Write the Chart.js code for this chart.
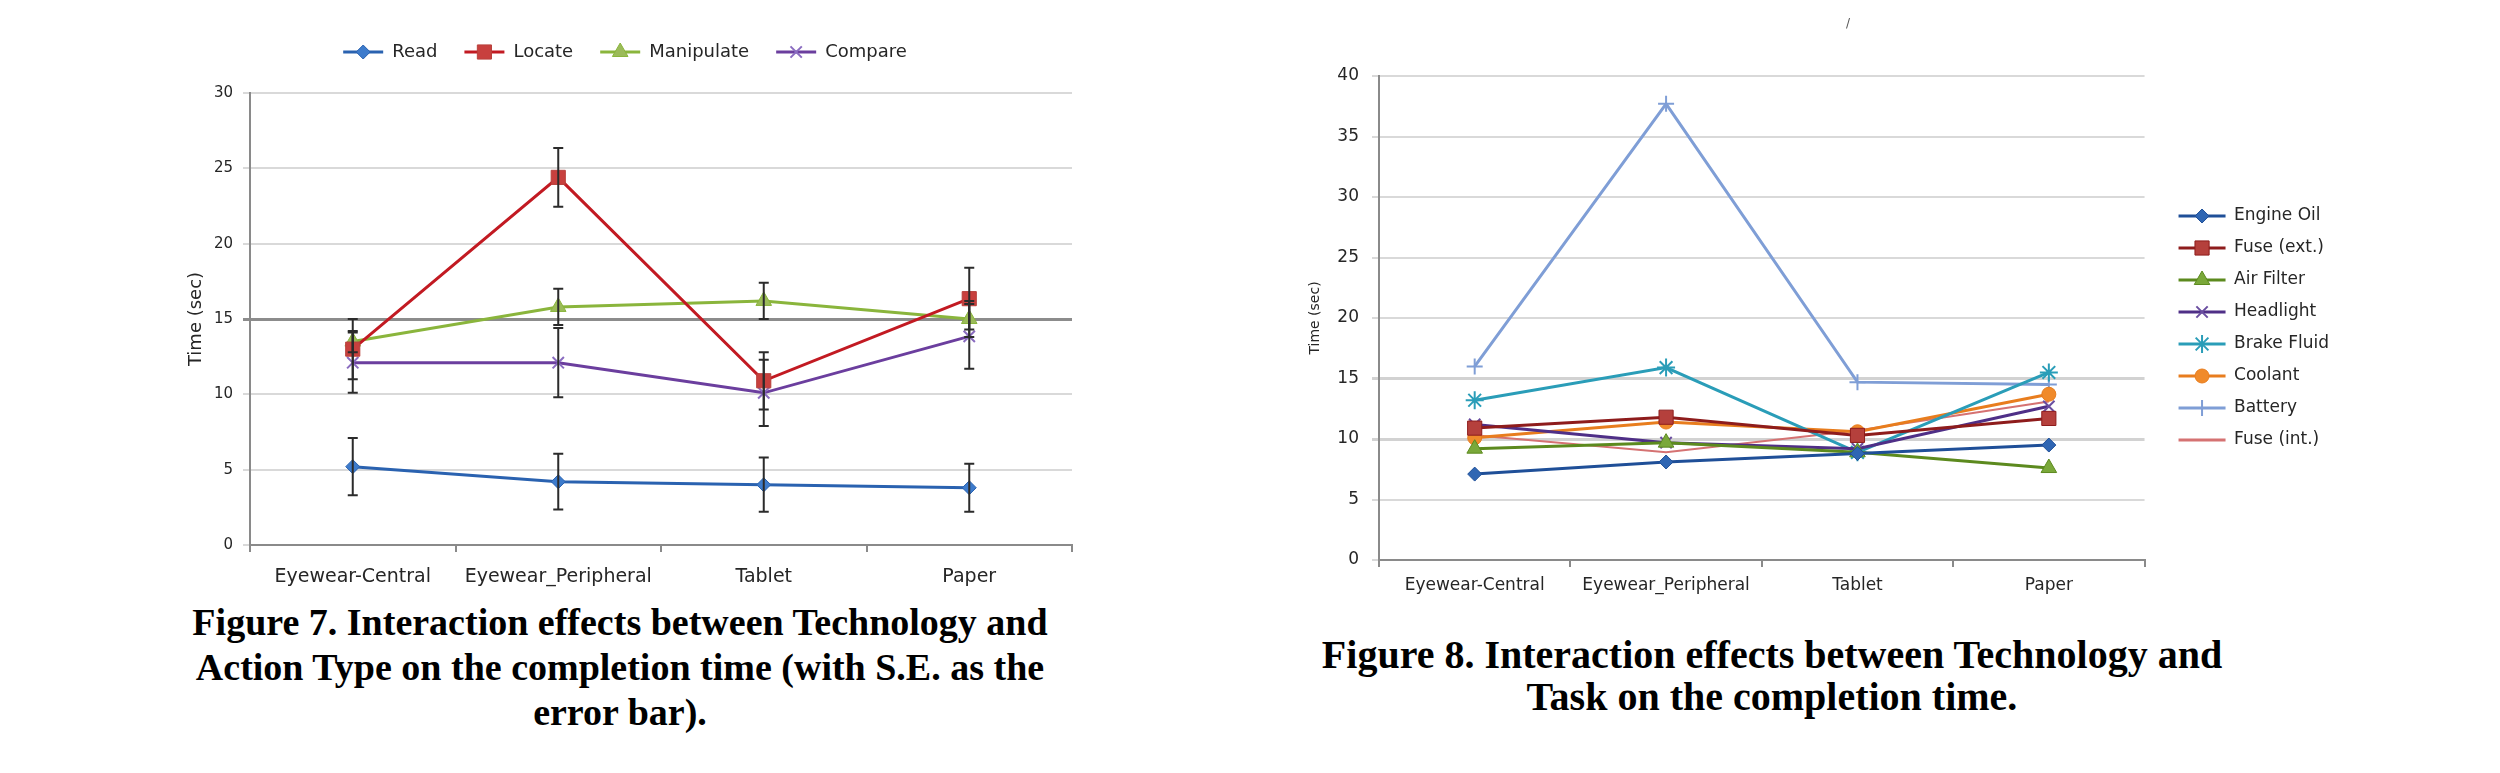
<!DOCTYPE html>
<html><head><meta charset="utf-8">
<script src="https://cdn.jsdelivr.net/npm/chart.js@4.4.1/dist/chart.umd.min.js"></script>
<style>
html,body{margin:0;padding:0;background:#fff;width:2500px;height:773px;overflow:hidden;position:relative}
canvas{position:absolute}
.cap{position:absolute;font-family:"Liberation Serif","Times New Roman",serif;font-weight:bold;color:#000;text-align:center;white-space:nowrap}
</style></head><body>
<canvas id="c1" width="1110" height="600" style="left:0;top:0;width:1110px;height:600px"></canvas>
<canvas id="c2" width="1250" height="620" style="left:1250px;top:0;width:1250px;height:620px"></canvas>
<div class="cap" style="left:120px;width:1000px;top:600px;font-size:38px;line-height:45px">Figure 7. Interaction effects between Technology and<br>Action Type on the completion time (with S.E. as the<br>error bar).</div>
<div class="cap" style="left:1222px;width:1100px;top:634px;font-size:40px;line-height:42px">Figure 8. Interaction effects between Technology and<br>Task on the completion time.</div>
<div style="position:absolute;left:1846px;top:16px;font:12px 'DejaVu Sans';color:#555">/</div>
<script>
// ---------- data ----------
const categories = ['Eyewear-Central', 'Eyewear_Peripheral', 'Tablet', 'Paper'];

// Figure 7 (means and standard errors, seconds)
const readTimes       = [5.2, 4.2, 4.0, 3.8];
const locateTimes     = [13.0, 24.4, 10.9, 16.35];
const manipulateTimes = [13.5, 15.8, 16.2, 15.0];
const compareTimes    = [12.1, 12.1, 10.1, 13.85];
const readSE       = [1.9, 1.85, 1.8, 1.6];
const locateSE     = [2.0, 1.95, 1.9, 2.05];
const manipulateSE = [0.7, 1.2, 1.2, 1.2];
const compareSE    = [2.0, 2.3, 2.2, 2.15];

// Figure 8 (mean times per task, seconds)
const engineOil  = [7.1, 8.1, 8.8, 9.5];
const fuseExt    = [10.9, 11.8, 10.3, 11.7];
const airFilter  = [9.2, 9.7, 8.9, 7.6];
const headlight  = [11.2, 9.7, 9.2, 12.7];
const brakeFluid = [13.2, 15.9, 8.9, 15.5];
const coolant    = [10.1, 11.4, 10.6, 13.7];
const battery    = [16.0, 37.7, 14.7, 14.5];
const fuseInt    = [10.3, 8.9, 10.7, 13.1];

const yTitle = 'Time (sec)';

// ---------- plugins ----------
const errorBars = {
  id: 'errorBars',
  afterDatasetsDraw(chart) {
    const y = chart.scales.y, ctx = chart.ctx;
    ctx.save();
    ctx.strokeStyle = '#2b2b2b';
    ctx.lineWidth = 2;
    chart.data.datasets.forEach((ds, i) => {
      if (!ds.errorBars) return;
      const meta = chart.getDatasetMeta(i);
      meta.data.forEach((pt, j) => {
        const v = ds.data[j], e = ds.errorBars[j];
        const hi = y.getPixelForValue(v + e), lo = y.getPixelForValue(v - e);
        const cap = 5;
        ctx.beginPath();
        ctx.moveTo(pt.x, hi); ctx.lineTo(pt.x, lo);
        ctx.moveTo(pt.x - cap, hi); ctx.lineTo(pt.x + cap, hi);
        ctx.moveTo(pt.x - cap, lo); ctx.lineTo(pt.x + cap, lo);
        ctx.stroke();
      });
    });
    ctx.restore();
  }
};

function drawMarker(ctx, style, x, y, r, fill, stroke, bw) {
  ctx.save();
  ctx.fillStyle = fill; ctx.strokeStyle = stroke; ctx.lineWidth = bw;
  if (Chart.helpers && Chart.helpers.drawPoint) {
    Chart.helpers.drawPoint(ctx, {pointStyle: style, radius: r, rotation: 0, borderWidth: bw}, x, y);
  }
  ctx.restore();
}

const legendTweak = {
  id: 'legendTweak',
  afterLayout(chart, args, opts) {
    const lg = chart.legend; if (!lg) return;
    const dx = opts.dx || 0, dy = opts.dy || 0;
    lg.left += dx; lg.right += dx; lg.top += dy; lg.bottom += dy;
  },
  afterDraw(chart) {
    const lg = chart.legend; if (!lg || !lg.legendHitBoxes) return;
    const ctx = chart.ctx;
    const bwid = lg.options.labels.boxWidth;
    lg.legendHitBoxes.forEach((hb, i) => {
      const ds = chart.data.datasets[i];
      if (!ds.pointRadius) return;
      drawMarker(ctx, ds.pointStyle, hb.left + bwid / 2, hb.top + hb.height / 2,
        ds.legendRadius || ds.pointRadius, ds.pointBackgroundColor, ds.pointBorderColor, ds.pointBorderWidth || 1);
    });
  }
};

function lineLabels(chart) {
  const items = Chart.defaults.plugins.legend.labels.generateLabels(chart);
  items.forEach((it) => {
    const ds = chart.data.datasets[it.datasetIndex];
    it.fillStyle = ds.borderColor; it.strokeStyle = ds.borderColor; it.lineWidth = 0;
  });
  return items;
}

function mk(label, data, line, fill, style, r, extra) {
  return Object.assign({
    label, data, borderColor: line, backgroundColor: fill,
    pointBackgroundColor: fill, pointBorderColor: line, pointBorderWidth: 1,
    pointStyle: style, pointRadius: r, pointHoverRadius: r,
    borderWidth: 3, tension: 0, fill: false
  }, extra || {});
}

const FONT = "'DejaVu Sans', Verdana, sans-serif";
const TXT = '#262626';
const AX = '#8a8a8a';

function xScale(fs, pad, h) {
  return {
    type: 'category', offset: true,
    grid: {display: true, offset: true, drawOnChartArea: false, drawTicks: true, tickLength: 7, color: AX, lineWidth: 2},
    border: {display: true, color: AX, width: 2},
    ticks: {font: {family: FONT, size: fs}, color: TXT, padding: pad, maxRotation: 0, autoSkip: false},
    afterFit(s) { s.height = h; }
  };
}

function yScale(max, fs, tfs, w, tick, pad, grid) {
  return {
    min: 0, max: max,
    ticks: {stepSize: 5, font: {family: FONT, size: fs}, color: TXT, padding: pad},
    grid: {drawTicks: true, tickLength: tick, color: c => grid(c).color, lineWidth: c => grid(c).w},
    border: {display: true, color: AX, width: 2},
    title: {display: true, text: yTitle, font: {family: FONT, size: tfs}, color: TXT, padding: 0},
    afterFit(s) { s.width = w; }
  };
}

Chart.defaults.animation = false;

// ---------- Figure 7 ----------
new Chart(document.getElementById('c1'), {
  type: 'line',
  data: {
    labels: categories,
    datasets: [
      mk('Read', readTimes, '#2a62b0', '#3d7bcc', 'rectRot', 7, {errorBars: readSE}),
      mk('Locate', locateTimes, '#c21a22', '#c8403e', 'rect', 10, {errorBars: locateSE, pointBorderColor: '#b8403c'}),
      mk('Manipulate', manipulateTimes, '#8ab53c', '#9bbb59', 'triangle', 9, {errorBars: manipulateSE}),
      mk('Compare', compareTimes, '#6b3e9e', '#8064a2', 'crossRot', 8, {errorBars: compareSE, pointBorderColor: '#8a6cc0', pointBorderWidth: 2})
    ]
  },
  options: {
    responsive: false, devicePixelRatio: 1,
    layout: {padding: {left: 186, right: 38, top: 38, bottom: 10}},
    scales: {
      x: xScale(19, 14, 45),
      y: yScale(30, 15, 18, 64, 7, 10, c => (c.tick && c.tick.value === 15) ? {color: '#8c8c8c', w: 3} : {color: '#d9d9d9', w: 2})
    },
    plugins: {
      legend: {position: 'top', labels: {font: {family: FONT, size: 18}, color: TXT, boxWidth: 40, boxHeight: 3, padding: 27, generateLabels: lineLabels}},
      tooltip: {enabled: false},
      legendTweak: {dx: -4, dy: -22}
    }
  },
  plugins: [errorBars, legendTweak]
});

// ---------- Figure 8 ----------
new Chart(document.getElementById('c2'), {
  type: 'line',
  data: {
    labels: categories,
    datasets: [
      mk('Engine Oil', engineOil, '#1f4f98', '#2f66b3', 'rectRot', 7),
      mk('Fuse (ext.)', fuseExt, '#8e1c1c', '#b5403c', 'rect', 10),
      mk('Air Filter', airFilter, '#5c8a1e', '#7aa83a', 'triangle', 9),
      mk('Headlight', headlight, '#4f2f87', '#6a4ea0', 'crossRot', 8, {pointBorderWidth: 2, pointBorderColor: '#6a4ea0'}),
      mk('Brake Fluid', brakeFluid, '#2a9db8', '#2a9db8', 'star', 9, {pointBorderWidth: 2}),
      mk('Coolant', coolant, '#e87d1e', '#f08a2a', 'circle', 7),
      mk('Battery', battery, '#7f9ed6', '#7f9ed6', 'cross', 8, {pointBorderWidth: 2}),
      mk('Fuse (int.)', fuseInt, '#d57272', '#d57272', 'circle', 0, {borderWidth: 2})
    ]
  },
  options: {
    responsive: false, devicePixelRatio: 1,
    layout: {padding: {left: 57, right: 180, top: 76, bottom: 10}},
    scales: {
      x: xScale(17, 8, 50),
      y: yScale(40, 17, 14, 72, 7, 13, c => (c.tick && (c.tick.value === 15 || c.tick.value === 10)) ? {color: '#d2d2d2', w: 3} : {color: '#d9d9d9', w: 2})
    },
    plugins: {
      legend: {position: 'right', align: 'center', labels: {font: {family: FONT, size: 17}, color: TXT, boxWidth: 47, boxHeight: 3, padding: 15, generateLabels: lineLabels}},
      tooltip: {enabled: false},
      legendTweak: {dx: 19, dy: -15}
    }
  },
  plugins: [errorBars, legendTweak]
});
</script>
</body></html>
